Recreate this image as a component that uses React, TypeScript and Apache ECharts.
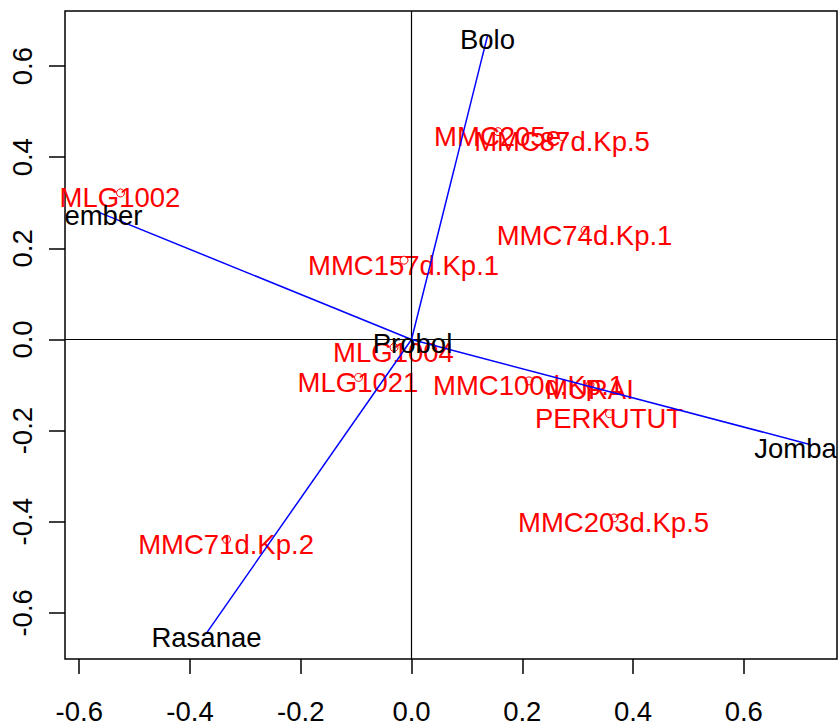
import React, { useEffect, useRef } from "react";
import * as echarts from "echarts";

const obsNames = ["MLG1002", "MMC205e", "MMC87d.Kp.5", "MMC74d.Kp.1", "MMC157d.Kp.1", "MLG1004", "MLG1021", "MMC100d.Kp.1", "MURAI", "PERKUTUT", "MMC203d.Kp.5", "MMC71d.Kp.2"];
const obsPC1 = [-0.5255, 0.1562, 0.2727, 0.3133, -0.0135, -0.0316, -0.0957, 0.2122, 0.3223, 0.3575, 0.3657, -0.334];
const obsPC2 = [0.3217, 0.4562, 0.4453, 0.2396, 0.174, -0.0175, -0.0832, -0.0908, -0.0996, -0.163, -0.3917, -0.4387];

const varNames = ["Bolo", "Jember", "Jombang", "Rasanae", "Probol"];
const varPC1 = [0.1372, -0.5688, 0.721, -0.3702, 0.0018];
const varPC2 = [0.6663, 0.2812, -0.2309, -0.6444, 0.0];

const xTicks = [-0.6, -0.4, -0.2, 0, 0.2, 0.4, 0.6];
const yTicks = [-0.6, -0.4, -0.2, 0, 0.2, 0.4, 0.6];
const xRange = [-0.6257, 0.7683];
const yRange = [-0.7013, 0.721];

const FONT = "'Liberation Sans', Arial, Helvetica, sans-serif";
const FS = 27.5;

export default function App() {
  const ref = useRef<HTMLDivElement>(null);
  useEffect(() => {
    document.body.style.margin = "0";
    const chart = echarts.init(ref.current!, null, { renderer: "svg" });
    const obsData = obsNames.map((n, i) => ({ name: n, value: [obsPC1[i], obsPC2[i]] }));
    const varData = varNames.map((n, i) => [varPC1[i], varPC2[i], n]);
    chart.setOption({
      animation: false,
      backgroundColor: "#fff",
      grid: { left: 65, top: 11, right: 1, bottom: 65, show: true, borderColor: "#000", borderWidth: 1.5, backgroundColor: "transparent" },
      xAxis: {
        type: "value",
        min: xRange[0],
        max: xRange[1],
        splitLine: { show: false },
        axisLine: { show: false, onZero: false },
        axisTick: { show: true, inside: false, length: 15, lineStyle: { color: "#000", width: 1.5 }, customValues: xTicks },
        axisLabel: { show: true, customValues: xTicks, formatter: (v: number) => v.toFixed(1), fontSize: FS, fontFamily: FONT, color: "#000", margin: 38 },
      },
      yAxis: {
        type: "value",
        min: yRange[0],
        max: yRange[1],
        splitLine: { show: false },
        axisLine: { show: false, onZero: false },
        axisTick: { show: true, inside: false, length: 16, lineStyle: { color: "#000", width: 1.5 }, customValues: yTicks },
        axisLabel: { show: true, customValues: yTicks, formatter: (v: number) => v.toFixed(1), fontSize: FS, fontFamily: FONT, color: "#000", rotate: 90, margin: 29 },
      },
      series: [
        {
          type: "scatter",
          data: obsData,
          symbol: "circle",
          symbolSize: 8,
          itemStyle: { color: "transparent", borderColor: "#FF0000", borderWidth: 1, opacity: 1 },
          label: {
            show: true,
            position: [4, 9.5],
            align: "center",
            verticalAlign: "middle",
            formatter: (p: any) => p.name,
            color: "#FF0000",
            fontSize: FS,
            fontFamily: FONT,
          },
          labelLayout: { hideOverlap: false },
          markLine: {
            silent: true,
            symbol: "none",
            label: { show: false },
            lineStyle: { color: "#000", type: "solid", width: 1.2, opacity: 1 },
            data: [{ xAxis: 0 }, { yAxis: 0 }],
          },
          z: 2,
        },
        {
          type: "custom",
          clip: true,
          z: 5,
          data: varData,
          renderItem: (params: any, api: any) => {
            const o = api.coord([0, 0]);
            const p = api.coord([api.value(0), api.value(1)]);
            const name = varNames[params.dataIndex];
            return {
              type: "group",
              children: [
                { type: "line", shape: { x1: o[0], y1: o[1], x2: p[0], y2: p[1] }, style: { stroke: "#0000FF", lineWidth: 1.5 } },
                { type: "text", style: { text: name, x: p[0], y: p[1] + 4, align: "center", verticalAlign: "middle", fill: "#000", fontSize: FS, fontFamily: FONT } },
              ],
            };
          },
        },
      ],
    });
    return () => chart.dispose();
  }, []);
  return <div ref={ref} style={{ width: 838, height: 725 }} />;
}
